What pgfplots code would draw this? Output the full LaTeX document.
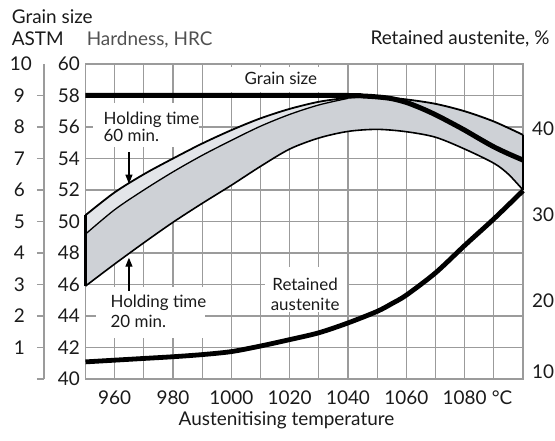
\documentclass[border=0pt]{standalone}
\usepackage{pgfplots}
\usepackage{pgfplotstable}
\pgfplotsset{compat=1.18}
\usepgfplotslibrary{fillbetween}
\usetikzlibrary{arrows.meta}
\usepackage{fontspec}
\setmainfont{Lato}
\definecolor{gridgray}{HTML}{9B9B9B}
\definecolor{bandlight}{HTML}{E3E5E9}
\definecolor{banddark}{HTML}{CED1D6}
\definecolor{txt}{HTML}{1A1A1A}
\definecolor{hrc}{HTML}{505050}

% Hardness band, HRC
\pgfplotstableread{
T v
950 50.4
960 51.85
970 53.0
980 54.0
990 54.95
1000 55.8
1010 56.55
1020 57.15
1030 57.6
1040 57.85
1050 57.92
1060 57.75
1070 57.47
1080 57.0
1090 56.35
1100 55.5
}\hardup
\pgfplotstableread{
T v
950 50.4
960 51.85
970 53.0
980 54.0
990 54.95
1000 55.8
1010 56.55
1020 57.15
1030 57.6
1040 57.85
}\hardupleft
\pgfplotstableread{
T v
950 49.2
960 50.75
970 52.0
980 53.15
990 54.2
1000 55.15
1010 56.05
1020 56.8
1030 57.4
1040 57.82
}\hardmid
\pgfplotstableread{
T v
950 45.9
960 47.3
970 48.65
980 49.95
990 51.15
1000 52.3
1010 53.5
1020 54.6
1030 55.3
1040 55.72
1050 55.85
1060 55.7
1070 55.35
1080 54.6
1090 53.7
1095 53.0
1100 52.0
}\hardlo
% Grain size, ASTM
\pgfplotstableread{
T g
950 9
1000 9
1040 9
1045 8.985
1050 8.955
1055 8.9
1060 8.78
1065 8.6
1070 8.39
1075 8.15
1080 7.9
1085 7.63
1090 7.37
1095 7.15
1100 6.95
}\grainsize
% Retained austenite, %
\pgfplotstableread{
T r
950 12.8
960 13.0
970 13.2
980 13.4
990 13.65
1000 14.0
1010 14.65
1020 15.4
1030 16.2
1040 17.35
1050 18.7
1055 19.6
1060 20.6
1070 23.2
1080 26.4
1090 29.5
1100 32.8
}\retaus

\begin{document}
\begin{tikzpicture}[font=\fontsize{19}{22}\selectfont, text=txt]

\begin{axis}[
  at={(0,0)}, anchor=south west,
  scale only axis, width=437.5bp, height=315bp,
  xmin=950, xmax=1100, ymin=40, ymax=60,
  xtick={950,960,...,1100},
  xticklabels={,960,,980,,1000,,1020,,1040,,1060,,1080,,},
  ytick={40,42,...,60},
  grid=major,
  major grid style={draw=gridgray, line width=1.1bp},
  axis line style={draw=gridgray, line width=1.1bp},
  major tick length=0pt,
  tick style={draw=none},
  /pgf/number format/assume math mode=true,
  /pgf/number format/1000 sep={},
  xticklabel style={anchor=north, inner sep=0pt, yshift=-11.7bp},
  yticklabel style={anchor=east, inner sep=0pt, xshift=-5.5bp},
  clip=false,
]
% white label boxes
\fill[white] (axis cs:952.6,57.52) rectangle (axis cs:988.8,54.73);
\fill[white] (axis cs:953.6,45.84) rectangle (axis cs:991,42.6);
\fill[white] (axis cs:999.6,59.81) rectangle (axis cs:1032,58.22);
\fill[white] (axis cs:1011.5,47.11) rectangle (axis cs:1039.6,44.25);

\addplot[draw=none, smooth, name path=upl, forget plot] table[x=T,y=v]{\hardupleft};
\addplot[black, line width=1.8bp, smooth, name path=up] table[x=T,y=v]{\hardup};
\addplot[black, line width=1.3bp, smooth, name path=mid] table[x=T,y=v]{\hardmid};
\addplot[black, line width=1.6bp, smooth, name path=lo] table[x=T,y=v]{\hardlo};
\addplot[banddark] fill between[of=up and lo];
\addplot[bandlight] fill between[of=upl and mid];
\addplot[black, line width=2.4bp] coordinates {(950,45.9) (950,50.4)};
\addplot[black, line width=2.6bp] coordinates {(1100,52.0) (1100,55.5)};

\begin{scope}[font=\fontsize{17}{20}\selectfont]
\node[anchor=base west] at (axis cs:955,56.13) {Holding time};
\node[anchor=base west] at (axis cs:955,55.05) {60 min.};
\node[anchor=base west] at (axis cs:957.4,44.51) {Holding time};
\node[anchor=base west] at (axis cs:957.4,43.3) {20 min.};
\node[anchor=base] at (axis cs:1017,58.67) {Grain size};
\node[anchor=base] at (axis cs:1025.3,45.65) {Retained};
\node[anchor=base] at (axis cs:1025.3,44.38) {austenite};
\end{scope}
\draw[black, line width=1.1bp, -{Triangle[length=9bp,width=7bp]}] (axis cs:964.9,54.4) -- (axis cs:964.9,52.4);
\draw[black, line width=1.1bp, -{Triangle[length=9bp,width=7bp]}] (axis cs:964.9,45.6) -- (axis cs:964.9,47.7);
\end{axis}

% ASTM grain size axis
\begin{axis}[
  at={(0,0)}, anchor=south west,
  scale only axis, width=437.5bp, height=315bp,
  xmin=950, xmax=1100, ymin=0, ymax=10,
  hide x axis,
  axis y line*=left,
  y axis line style={draw=gridgray, line width=1.1bp, xshift=-41.5bp},
  ytick={0,...,9},
  yticklabels={,1,2,3,4,5,6,7,8,9},
  extra y ticks={10},
  extra y tick labels={10},
  extra y tick style={major tick length=0pt},
  tick align=outside,
  major tick length=7bp,
  y tick style={draw=gridgray, line width=1.1bp, xshift=-41.5bp},
  yticklabel style={anchor=east, inner sep=0pt, xshift=-53.5bp},
  /pgf/number format/assume math mode=true,
  clip=false,
]
\addplot[black, line width=5bp, smooth] table[x=T,y=g]{\grainsize};
\end{axis}

% Retained austenite axis
\begin{axis}[
  at={(0,0)}, anchor=south west,
  scale only axis, width=437.5bp, height=315bp,
  xmin=950, xmax=1100, ymin=10.8, ymax=47.6,
  hide x axis,
  axis y line*=right,
  y axis line style={draw=none},
  ytick={11.6,20,30,40},
  yticklabels={10,20,30,40},
  major tick length=0pt,
  tick style={draw=none},
  yticklabel style={anchor=west, inner sep=0pt, xshift=9bp},
  /pgf/number format/assume math mode=true,
  clip=false,
]
\addplot[black, line width=4.8bp, smooth] table[x=T,y=r]{\retaus};
\end{axis}

\node[anchor=base west] at (-77.2bp,355.7bp) {Grain size};
\node[anchor=base west] at (-77.2bp,333.3bp) {ASTM};
\node[anchor=base west, text=hrc] at (-2.2bp,333.3bp) {Hardness, HRC};
\node[anchor=base east] at (467.5bp,334bp) {Retained austenite, \%};
\node[anchor=base] at (201bp,-46bp) {Austenitising temperature};
\node[anchor=base] at (416.5bp,-25.4bp) {°C};
\path (-85.5bp,-62bp) rectangle (469.5bp,379bp);
\end{tikzpicture}
\end{document}
